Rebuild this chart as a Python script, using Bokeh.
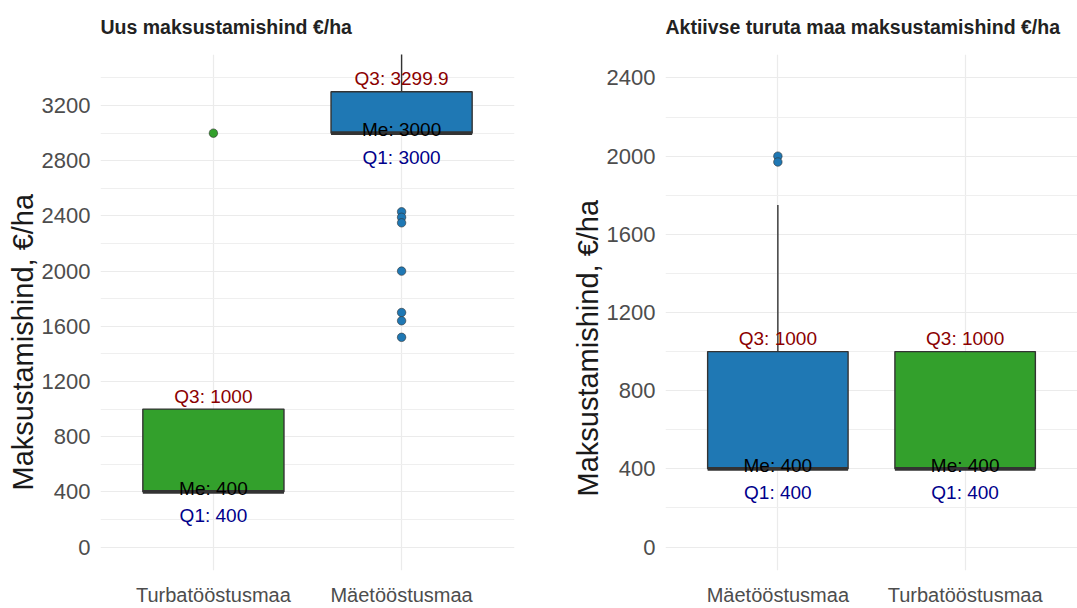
from bokeh.plotting import figure
from bokeh.models import ColumnDataSource, FactorRange, Range1d, FixedTicker, Title
from bokeh.layouts import row
from bokeh.embed import file_html
from bokeh.resources import INLINE
from bokeh.core.properties import value

FONT = "Liberation Sans"

# ---------------- data ----------------
y_axis_label = "Maksustamishind, €/ha"
color_map = {"Turbatööstusmaa": "#33A02C", "Mäetööstusmaa": "#1F78B4"}

# Panel 1: Uus maksustamishind
p1_title = "Uus maksustamishind €/ha"
p1_cats = ["Turbatööstusmaa", "Mäetööstusmaa"]
p1_q1 = [400, 3000]
p1_med = [400, 3000]
p1_q3 = [1000, 3299.9]
p1_lower = [400, 3000]
p1_upper = [1000, 3700]
p1_out_cat = ["Turbatööstusmaa", "Mäetööstusmaa", "Mäetööstusmaa", "Mäetööstusmaa",
              "Mäetööstusmaa", "Mäetööstusmaa", "Mäetööstusmaa", "Mäetööstusmaa"]
p1_out_val = [3000, 2430, 2390, 2350, 2000, 1700, 1640, 1520]
p1_ticks = [0, 400, 800, 1200, 1600, 2000, 2400, 2800, 3200]
p1_ylim = (0, 3400)

# Panel 2: Aktiivse turuta maa maksustamishind
p2_title = "Aktiivse turuta maa maksustamishind €/ha"
p2_cats = ["Mäetööstusmaa", "Turbatööstusmaa"]
p2_q1 = [400, 400]
p2_med = [400, 400]
p2_q3 = [1000, 1000]
p2_lower = [400, 400]
p2_upper = [1750, 1000]
p2_out_cat = ["Mäetööstusmaa", "Mäetööstusmaa"]
p2_out_val = [2000, 1970]
p2_ticks = [0, 400, 800, 1200, 1600, 2000, 2400]
p2_ylim = (0, 2400)


def make_panel(title, cats, q1, med, q3, lower, upper, out_cat, out_val, ticks, ylim,
               width, bl, br, ylab_offset):
    lo, hi = ylim
    pad = 0.05 * (hi - lo)
    p = figure(width=width, height=608, output_backend="svg", toolbar_location=None,
               x_range=FactorRange(factors=cats, range_padding=0.1),
               y_range=Range1d(lo - pad, hi + pad),
               min_border_left=bl, min_border_right=br,
               min_border_top=53, min_border_bottom=36)
    p.outline_line_color = None
    p.background_fill_color = "white"
    p.border_fill_color = "white"

    # title
    p.title.text = title
    p.title.text_font = FONT
    p.title.text_font_size = "19.5px"
    p.title.text_font_style = "bold"
    p.title.text_color = "#222222"
    p.title.align = "left"
    p.title.vertical_align = "top"
    p.title.standoff = 30

    step = ticks[1] - ticks[0]
    minor = [t + step / 2 for t in ticks]
    p.yaxis.ticker = FixedTicker(ticks=ticks, minor_ticks=minor)

    for ax in (p.xaxis, p.yaxis):
        ax.axis_line_color = None
        ax.major_tick_line_color = None
        ax.minor_tick_line_color = None
        ax.major_tick_out = 0
        ax.minor_tick_out = 0
        ax.major_tick_in = 0
        ax.minor_tick_in = 0
        ax.major_label_text_font = FONT
        ax.major_label_text_color = "#4D4D4D"

    p.yaxis.major_label_text_font_size = "22px"
    p.yaxis.major_label_standoff = 10

    p.xaxis.major_label_text_font_size = "20px"
    p.xaxis.major_label_standoff = 13

    # y-axis title
    yt = Title(text=y_axis_label, align="left", text_font=FONT,
               text_font_size="29px", text_font_style="normal",
               text_color="#1A1A1A", standoff=0, offset=ylab_offset)
    p.add_layout(yt, "left")

    p.ygrid.grid_line_color = "#EBEBEB"
    p.ygrid.grid_line_width = 1.2
    p.ygrid.minor_grid_line_color = "#EFEFEF"
    p.ygrid.minor_grid_line_width = 1.0
    p.xgrid.grid_line_color = "#EBEBEB"
    p.xgrid.grid_line_width = 1.2

    src = ColumnDataSource(dict(
        cat=cats, q1=q1, med=med, q3=q3, lower=lower, upper=upper,
        color=[color_map[c] for c in cats],
        q3_lab=[f"Q3: {v:g}" for v in q3],
        med_lab=[f"Me: {v:g}" for v in med],
        q1_lab=[f"Q1: {v:g}" for v in q1],
    ))
    out = ColumnDataSource(dict(cat=out_cat, val=out_val,
                                color=[color_map[c] for c in out_cat]))

    p.segment(x0="cat", y0="q3", x1="cat", y1="upper", source=src,
              line_color="#333333", line_width=1.4)
    p.segment(x0="cat", y0="q1", x1="cat", y1="lower", source=src,
              line_color="#333333", line_width=1.4)
    p.vbar(x="cat", bottom="q1", top="q3", width=0.75, source=src,
           fill_color="color", line_color="#333333", line_width=1.4)
    p.rect(x="cat", y="med", width=0.75, height=3.8, height_units="screen", source=src,
           fill_color="#333333", line_color=None)
    p.scatter(x="cat", y="val", source=out, size=8.5, fill_color="color",
              line_color="#333333", line_width=0.6)

    p.text(x="cat", y="q3", text="q3_lab", source=src, text_align="center",
           text_baseline="alphabetic", y_offset=-13, text_font=value(FONT),
           text_font_size="19px", text_color="#8B0000")
    p.text(x="cat", y="med", text="med_lab", source=src, text_align="center",
           text_baseline="alphabetic", y_offset=-3.5, text_font=value(FONT),
           text_font_size="19px", text_color="#000000")
    p.text(x="cat", y="q1", text="q1_lab", source=src, text_align="center",
           text_baseline="alphabetic", y_offset=24, text_font=value(FONT),
           text_font_size="19px", text_color="#00008B")
    return p


p1 = make_panel(p1_title, p1_cats, p1_q1, p1_med, p1_q3, p1_lower, p1_upper,
                p1_out_cat, p1_out_val, p1_ticks, p1_ylim, 540, 100, 26, 80)
p2 = make_panel(p2_title, p2_cats, p2_q1, p2_med, p2_q3, p2_lower, p2_upper,
                p2_out_cat, p2_out_val, p2_ticks, p2_ylim, 537, 125, 0, 74)

layout = row(p1, p2)
open("out.html", "w").write(file_html(layout, INLINE))
